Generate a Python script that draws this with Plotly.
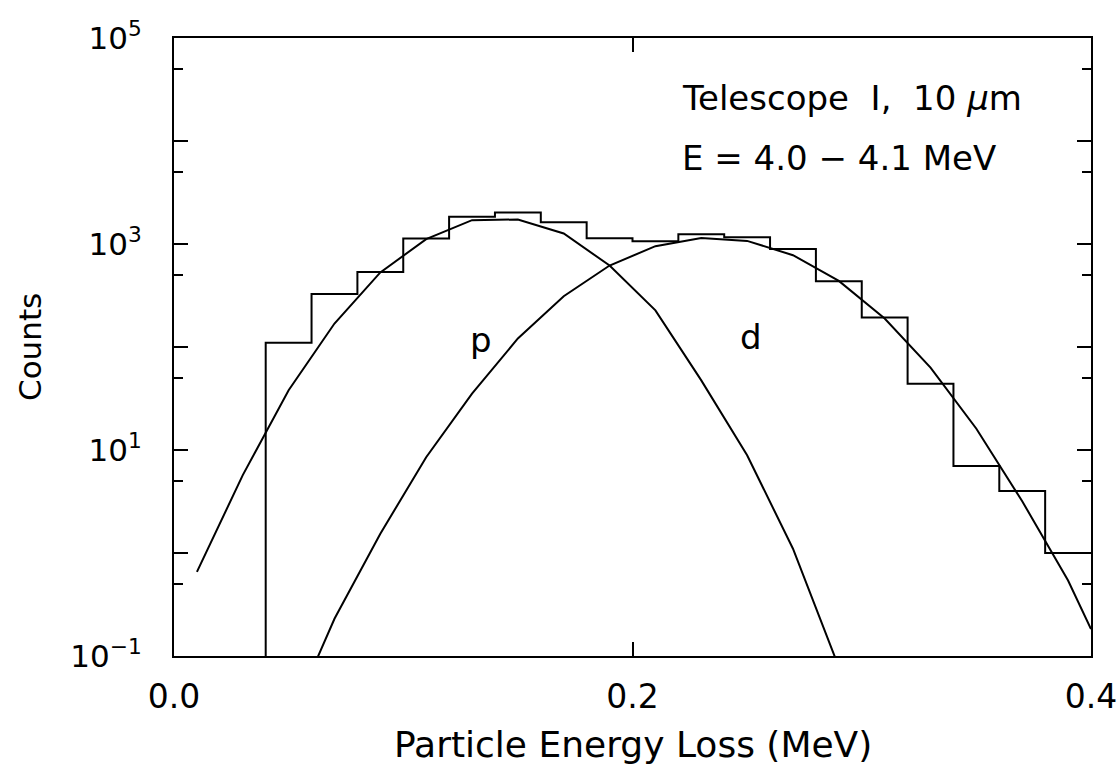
import plotly.graph_objects as go

# Histogram of measured energy loss, bin width 0.02 MeV
bin_edges = [0.00, 0.02, 0.04, 0.06, 0.08, 0.10, 0.12, 0.14, 0.16, 0.18, 0.20,
             0.22, 0.24, 0.26, 0.28, 0.30, 0.32, 0.34, 0.36, 0.38, 0.40]
counts = [0, 0, 110, 327, 536, 1133, 1834, 2020, 1629, 1137, 1066,
          1244, 1164, 896, 436, 193, 44, 7, 4, 1]

# Fitted proton component, evaluated at bin centres
p_x = [0.01, 0.03, 0.05, 0.07, 0.09, 0.11, 0.13, 0.15, 0.17, 0.19,
       0.21, 0.23, 0.25, 0.27, 0.29]
p_y = [0.655, 5.7, 38, 169, 530, 1114, 1703, 1730, 1265, 618,
       227, 47.4, 8.9, 1.1, 0.078]

# Fitted deuteron component
d_x = [0.05, 0.07, 0.09, 0.11, 0.13, 0.15, 0.17, 0.19, 0.21, 0.23,
       0.25, 0.27, 0.29, 0.31, 0.33, 0.35, 0.37, 0.39, 0.40]
d_y = [0.022, 0.23, 1.54, 8.5, 35.2, 121, 311, 618, 952, 1146,
       1072, 778, 438, 189, 63, 16.1, 3.18, 0.54, 0.183]

x_ticks = [0.0, 0.2, 0.4]
x_ticktext = ["0.0", "0.2", "0.4"]
y_major = [1e-1, 1e0, 1e1, 1e2, 1e3, 1e4, 1e5]
y_ticktext = ["10<sup>\u22121</sup>", "", "10<sup>1</sup>", "", "10<sup>3</sup>", "", "10<sup>5</sup>"]
y_minor = [0.5, 5, 50, 500, 5000, 50000]

Y_MIN_EXP, Y_MAX_EXP = -1, 5
FONT = "DejaVu Sans"
INK = "black"

# empty bins are pushed below the visible range so the step drops to the axis
floor = 10 ** (Y_MIN_EXP - 1)
step_x = bin_edges
step_y = [c if c > 0 else floor for c in counts] + [counts[-1] if counts[-1] > 0 else floor]

fig = go.Figure()
fig.add_trace(go.Scatter(x=step_x, y=step_y, mode="lines", line_shape="hv",
                         line=dict(color=INK, width=2), showlegend=False))
fig.add_trace(go.Scatter(x=p_x, y=p_y, mode="lines",
                         line=dict(color=INK, width=2), showlegend=False))
fig.add_trace(go.Scatter(x=d_x, y=d_y, mode="lines",
                         line=dict(color=INK, width=2), showlegend=False))

axis_common = dict(showgrid=False, zeroline=False, showline=True, linecolor=INK,
                   linewidth=2, mirror="ticks", ticks="inside", tickcolor=INK,
                   tickwidth=2, automargin=False, ticklabeloverflow="allow")

fig.update_xaxes(range=[0, 0.4], tickmode="array", tickvals=x_ticks,
                 ticktext=x_ticktext, ticklen=14, ticklabelstandoff=10,
                 tickfont=dict(family=FONT, size=33, color=INK), **axis_common)
fig.update_yaxes(type="log", range=[Y_MIN_EXP, Y_MAX_EXP], tickmode="array",
                 tickvals=y_major, ticktext=y_ticktext, ticklen=14,
                 ticklabelstandoff=24,
                 tickfont=dict(family=FONT, size=31, color=INK),
                 minor=dict(tickvals=y_minor, ticks="inside", ticklen=9,
                            tickwidth=2, tickcolor=INK, showgrid=False),
                 **axis_common)

text_font = dict(family=FONT, size=34, color=INK)
fig.add_annotation(text="Telescope\u00a0 I,\u00a0 10 <i>\u03bc</i>m", xref="paper", yref="paper",
                   x=(680 - 174) / 917, y=1, xanchor="left", yanchor="middle",
                   yshift=-60, showarrow=False, font=text_font)
fig.add_annotation(text="E = 4.0 \u2212 4.1 MeV", xref="paper", yref="paper",
                   x=(680 - 174) / 917, y=1, xanchor="left", yanchor="middle",
                   yshift=-120, showarrow=False, font=text_font)
fig.add_annotation(text="p", x=0.1338, y=2.07, xanchor="center", yanchor="middle",
                   showarrow=False, font=text_font)
fig.add_annotation(text="d", x=0.2515, y=2.1, xanchor="center", yanchor="middle",
                   showarrow=False, font=text_font)
fig.add_annotation(text="Particle Energy Loss (MeV)", xref="paper", yref="paper",
                   x=0.5, y=0, xanchor="center", yanchor="middle", yshift=-88,
                   showarrow=False, font=dict(family=FONT, size=36, color=INK))
fig.add_annotation(text="Counts", xref="paper", yref="paper", textangle=-90,
                   x=0, y=0.5, xanchor="center", yanchor="middle", xshift=-144,
                   showarrow=False, font=dict(family=FONT, size=31, color=INK))

fig.update_layout(width=1117, height=764, autosize=False,
                  margin=dict(l=174, r=26, t=38, b=108),
                  paper_bgcolor="white", plot_bgcolor="white")

fig.write_html("out.html")
